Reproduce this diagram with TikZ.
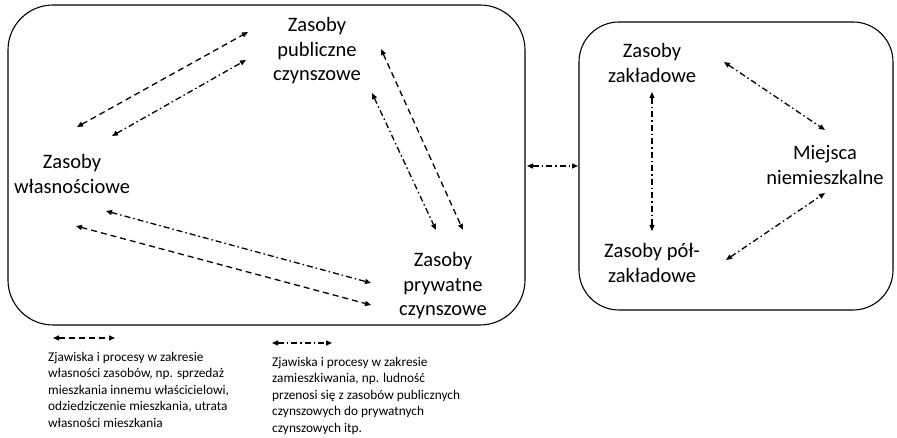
\documentclass[tikz,border=0pt]{standalone}
\usepackage{fontspec}
\setmainfont{Carlito}
\usetikzlibrary{arrows.meta}
\tikzset{
  frame/.style={draw, line width=1.1pt},
  big/.style={font=\fontsize{20.5}{24.5}\selectfont, align=center, inner sep=0pt},
  small/.style={font=\fontsize{13.3}{16.5}\selectfont, align=left, inner sep=0pt, anchor=north west},
  own/.style={line width=1.3pt, dash pattern=on 6pt off 4pt, {Triangle[length=6pt,width=5pt]}-{Triangle[length=6pt,width=5pt]}},
  live/.style={line width=1.3pt, dash pattern=on 6pt off 3pt on 1.5pt off 3pt, {Triangle[length=6pt,width=5pt]}-{Triangle[length=6pt,width=5pt]}}
}
\begin{document}
\begin{tikzpicture}[x=1pt,y=-1pt]
\useasboundingbox (0,0) rectangle (897,438);
% frames
\draw[frame, rounded corners=45pt] (8,5) rectangle (525,325);
\draw[frame, rounded corners=40pt] (579,22) rectangle (893,310);
% nodes
\node[big] (pub) at (317,51) {Zasoby\\publiczne\\czynszowe};
\node[big] (wl) at (72,174) {Zasoby\\własnościowe};
\node[big] (pryw) at (443,286) {Zasoby\\prywatne\\czynszowe};
\node[big] (zak) at (652,63) {Zasoby\\zakładowe};
\node[big] (mie) at (825,165) {Miejsca\\niemieszkalne};
\node[big] (pol) at (652,263) {Zasoby pół-\\zakładowe};
% arrow end coordinates
\coordinate (a1) at (77,127); \coordinate (a2) at (248,32);
\coordinate (b1) at (112,136); \coordinate (b2) at (246,60);
\coordinate (c1) at (372,93); \coordinate (c2) at (436,230);
\coordinate (d1) at (381,49); \coordinate (d2) at (463,230);
\coordinate (e1) at (106,211); \coordinate (e2) at (371,283);
\coordinate (f1) at (76,226); \coordinate (f2) at (371,305);
\coordinate (g1) at (527,166); \coordinate (g2) at (578,166);
\coordinate (h1) at (652,92); \coordinate (h2) at (652,231);
\coordinate (i1) at (724,62); \coordinate (i2) at (825,130);
\coordinate (j1) at (726,260); \coordinate (j2) at (825,193);
\draw[own] (a1) -- (a2);
\draw[live] (b1) -- (b2);
\draw[live] (c1) -- (c2);
\draw[own] (d1) -- (d2);
\draw[live] (e1) -- (e2);
\draw[own] (f1) -- (f2);
\draw[live] (g1) -- (g2);
\draw[live] (h1) -- (h2);
\draw[live] (i1) -- (i2);
\draw[live] (j1) -- (j2);
% legend
\coordinate (l1) at (53,338); \coordinate (l2) at (115,338);
\coordinate (m1) at (272,343); \coordinate (m2) at (332,343);
\draw[own] (l1) -- (l2);
\draw[live] (m1) -- (m2);
\node[small] (t1) at (48,352) {Zjawiska i procesy w zakresie\\własności zasobów, np. sprzedaż\\mieszkania innemu właścicielowi,\\odziedziczenie mieszkania, utrata\\własności mieszkania};
\node[small] (t2) at (272,357) {Zjawiska i procesy w zakresie\\zamieszkiwania, np. ludność\\przenosi się z zasobów publicznych\\czynszowych do prywatnych\\czynszowych itp.};
\end{tikzpicture}
\end{document}
